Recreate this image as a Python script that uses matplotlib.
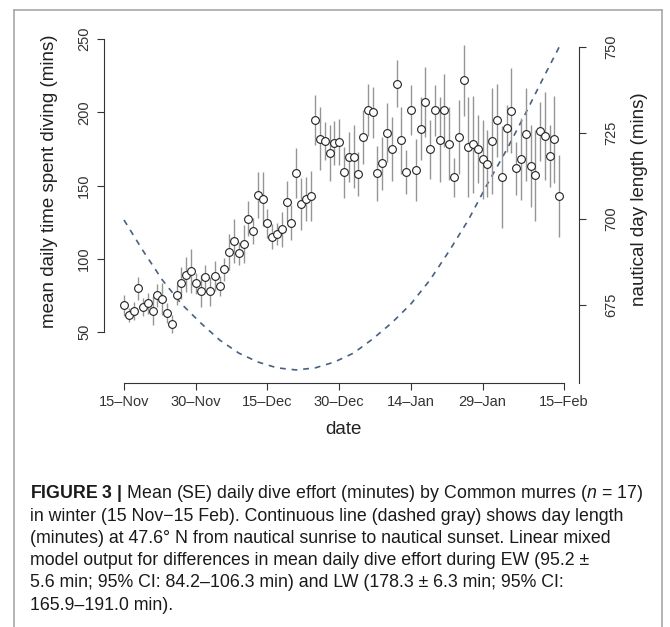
import matplotlib
matplotlib.use("Agg")
import matplotlib.pyplot as plt
from matplotlib.lines import Line2D

# mean daily dive time (mins) and SE, one value per day from 15 Nov (day 0)
DIVE_MEAN = [68.2, 61.6, 64.3, 79.8, 66.9, 69.6, 64.5, 75.1, 72.3, 63.0,
             55.5, 75.3, 83.2, 89.1, 91.4, 83.2, 77.8, 87.7, 77.8, 88.2,
             81.4, 92.8, 104.6, 112.3, 103.7, 109.9, 127.3, 118.9, 143.5, 141.0,
             124.2, 115.1, 116.7, 120.1, 138.9, 124.6, 158.3, 137.4, 140.6, 142.6,
             194.5, 181.9, 180.4, 172.2, 179.0, 179.7, 159.0, 169.7, 169.7, 157.8,
             183.1, 201.5, 200.0, 158.3, 165.2, 186.0, 174.9, 219.5, 180.9, 159.2,
             201.7, 160.6, 188.6, 207.0, 174.7, 201.3, 181.3, 201.3, 178.5, 155.6,
             183.1, 221.8, 176.3, 178.1, 174.9, 167.9, 164.9, 180.4, 194.5, 155.8,
             189.0, 200.9, 161.7, 167.9, 184.9, 163.3, 157.0, 187.0, 183.8, 170.3,
             181.5, 142.8]
DIVE_SE = [7, 5, 6, 8, 6, 7, 10, 8, 11, 7,
           6, 7, 11, 12, 15, 7, 11, 8, 10, 10,
           7, 8, 12.5, 15, 8, 13, 12, 9, 16, 18.5,
           10, 8.5, 7.5, 12, 14, 12, 17, 17.5, 15, 17,
           17, 21.5, 13, 19, 15, 16, 17.5, 17, 21.5, 15,
           18.5, 18, 17.5, 19, 18, 20, 22, 16, 23, 15,
           17, 21.5, 21.5, 24, 20, 17.5, 29, 25, 25, 13.5,
           25, 24, 34, 33, 23, 27, 23, 36, 25, 35,
           16, 29, 18, 28, 32, 28, 31, 20, 30, 21,
           29.5, 28]
DAYS = list(range(len(DIVE_MEAN)))

# nautical day length (mins)
DL_DAYS = [0, 4, 8, 12, 16, 20, 24, 28, 32, 36, 40, 44, 48, 52, 56, 60,
           64, 68, 72, 76, 80, 84, 88, 91]
DL_MINS = [699.7, 690.7, 682.3, 675.3, 669.8, 664.8, 661.0, 658.4, 656.7, 656.1,
           656.7, 658.4, 661.0, 665.1, 669.8, 675.3, 682.3, 690.7, 699.7, 710.2,
           720.1, 730.8, 741.9, 750.0]

TICK_DAYS = [0, 15, 30, 45, 60, 75, 92]
TICK_LABELS = ["15–Nov", "30–Nov", "15–Dec", "30–Dec", "14–Jan", "29–Jan", "15–Feb"]

CAPTION = [
    r"$\mathbf{FIGURE\ 3\ |}$ Mean (SE) daily dive effort (minutes) by Common murres ($n$ = 17)",
    "in winter (15 Nov−15 Feb). Continuous line (dashed gray) shows day length",
    "(minutes) at 47.6° N from nautical sunrise to nautical sunset. Linear mixed",
    "model output for differences in mean daily dive effort during EW (95.2 ±",
    "5.6 min; 95% CI: 84.2–106.3 min) and LW (178.3 ± 6.3 min; 95% CI:",
    "165.9–191.0 min).",
]

plt.rcParams["font.family"] = ["Liberation Sans", "DejaVu Sans"]
plt.rcParams["mathtext.fontset"] = "custom"
plt.rcParams["mathtext.rm"] = "Liberation Sans"
plt.rcParams["mathtext.it"] = "Liberation Sans:italic"
plt.rcParams["mathtext.bf"] = "Liberation Sans:bold"

W, H = 670, 627
fig = plt.figure(figsize=(W / 100, H / 100), dpi=100)

def fx(px):
    return px / W

def fy(py):
    return 1 - py / H

# plot region in pixels: x 104..579, y 26..383
ax = fig.add_axes([fx(104), fy(383), fx(579) - fx(104), fy(26) - fy(383)])
ax.set_xlim(-4.18, 95.14)
ax.set_ylim(15.2, 258.9)

ax.errorbar(DAYS, DIVE_MEAN, yerr=DIVE_SE, fmt="none", ecolor="#959595",
            elinewidth=1.0, capsize=0, zorder=2)
ax.plot(DAYS, DIVE_MEAN, "o", ms=5.6, mfc="white", mec="#222222", mew=0.8, zorder=3)

ink = "#333333"
for s in ["top", "right"]:
    ax.spines[s].set_visible(False)
ax.spines["left"].set_bounds(50, 250)
ax.spines["bottom"].set_bounds(0, 92)
for s in ["left", "bottom"]:
    ax.spines[s].set_color(ink)
    ax.spines[s].set_linewidth(0.8)
ax.set_yticks([50, 100, 150, 200, 250])
ax.set_xticks(TICK_DAYS)
ax.set_xticklabels(TICK_LABELS)
ax.tick_params(axis="both", direction="out", length=5, width=0.8, color=ink,
               labelcolor=ink, labelsize=10.5)
ax.tick_params(axis="x", pad=3.5)
ax.tick_params(axis="y", pad=4.3, labelrotation=90)
for lab in ax.get_yticklabels():
    lab.set_va("center")

ax2 = ax.twinx()
ax2.set_ylim(652.3, 756.1)
ax2.plot(DL_DAYS, DL_MINS, color="#4a6080", lw=1.2, ls=(0, (3.5, 3.5)), zorder=1)
for s in ["top", "left", "bottom"]:
    ax2.spines[s].set_visible(False)
ax2.spines["right"].set_bounds(652.3, 750)
ax2.spines["right"].set_color(ink)
ax2.spines["right"].set_linewidth(0.8)
ax2.set_yticks([675, 700, 725, 750])
ax2.tick_params(axis="y", direction="out", length=5, width=0.8, color=ink,
                labelcolor=ink, labelsize=10.5, pad=13, labelrotation=90)
for lab in ax2.get_yticklabels():
    lab.set_va("center")
ax.set_zorder(ax2.get_zorder() + 1)
ax.patch.set_visible(False)

# axis titles
fig.text(fx(49), fy(181), "mean daily time spent diving (mins)", rotation=90,
         ha="center", va="center", fontsize=13.5, color="#222222")
fig.text(fx(639), fy(199), "nautical day length (mins)", rotation=90,
         ha="center", va="center", fontsize=13.5, color="#222222")
fig.text(fx(343), fy(430), "date", ha="center", va="center", fontsize=13.5,
         color="#222222")

# caption
for i, line in enumerate(CAPTION):
    fig.text(fx(30), fy(494 + 22.2 * i), line, ha="left", va="center",
             fontsize=12.75, color="#1a1a1a")

# gray frame around the figure panel
frame = "#a8a8a8"
fig.add_artist(Line2D([fx(14), fx(14)], [fy(10), 0], color=frame, lw=1.2))
fig.add_artist(Line2D([fx(14), fx(662)], [fy(10), fy(10)], color=frame, lw=1.2))
fig.add_artist(Line2D([fx(662), fx(662)], [fy(10), 0], color=frame, lw=1.2))

fig.savefig("out.png", dpi=100)
